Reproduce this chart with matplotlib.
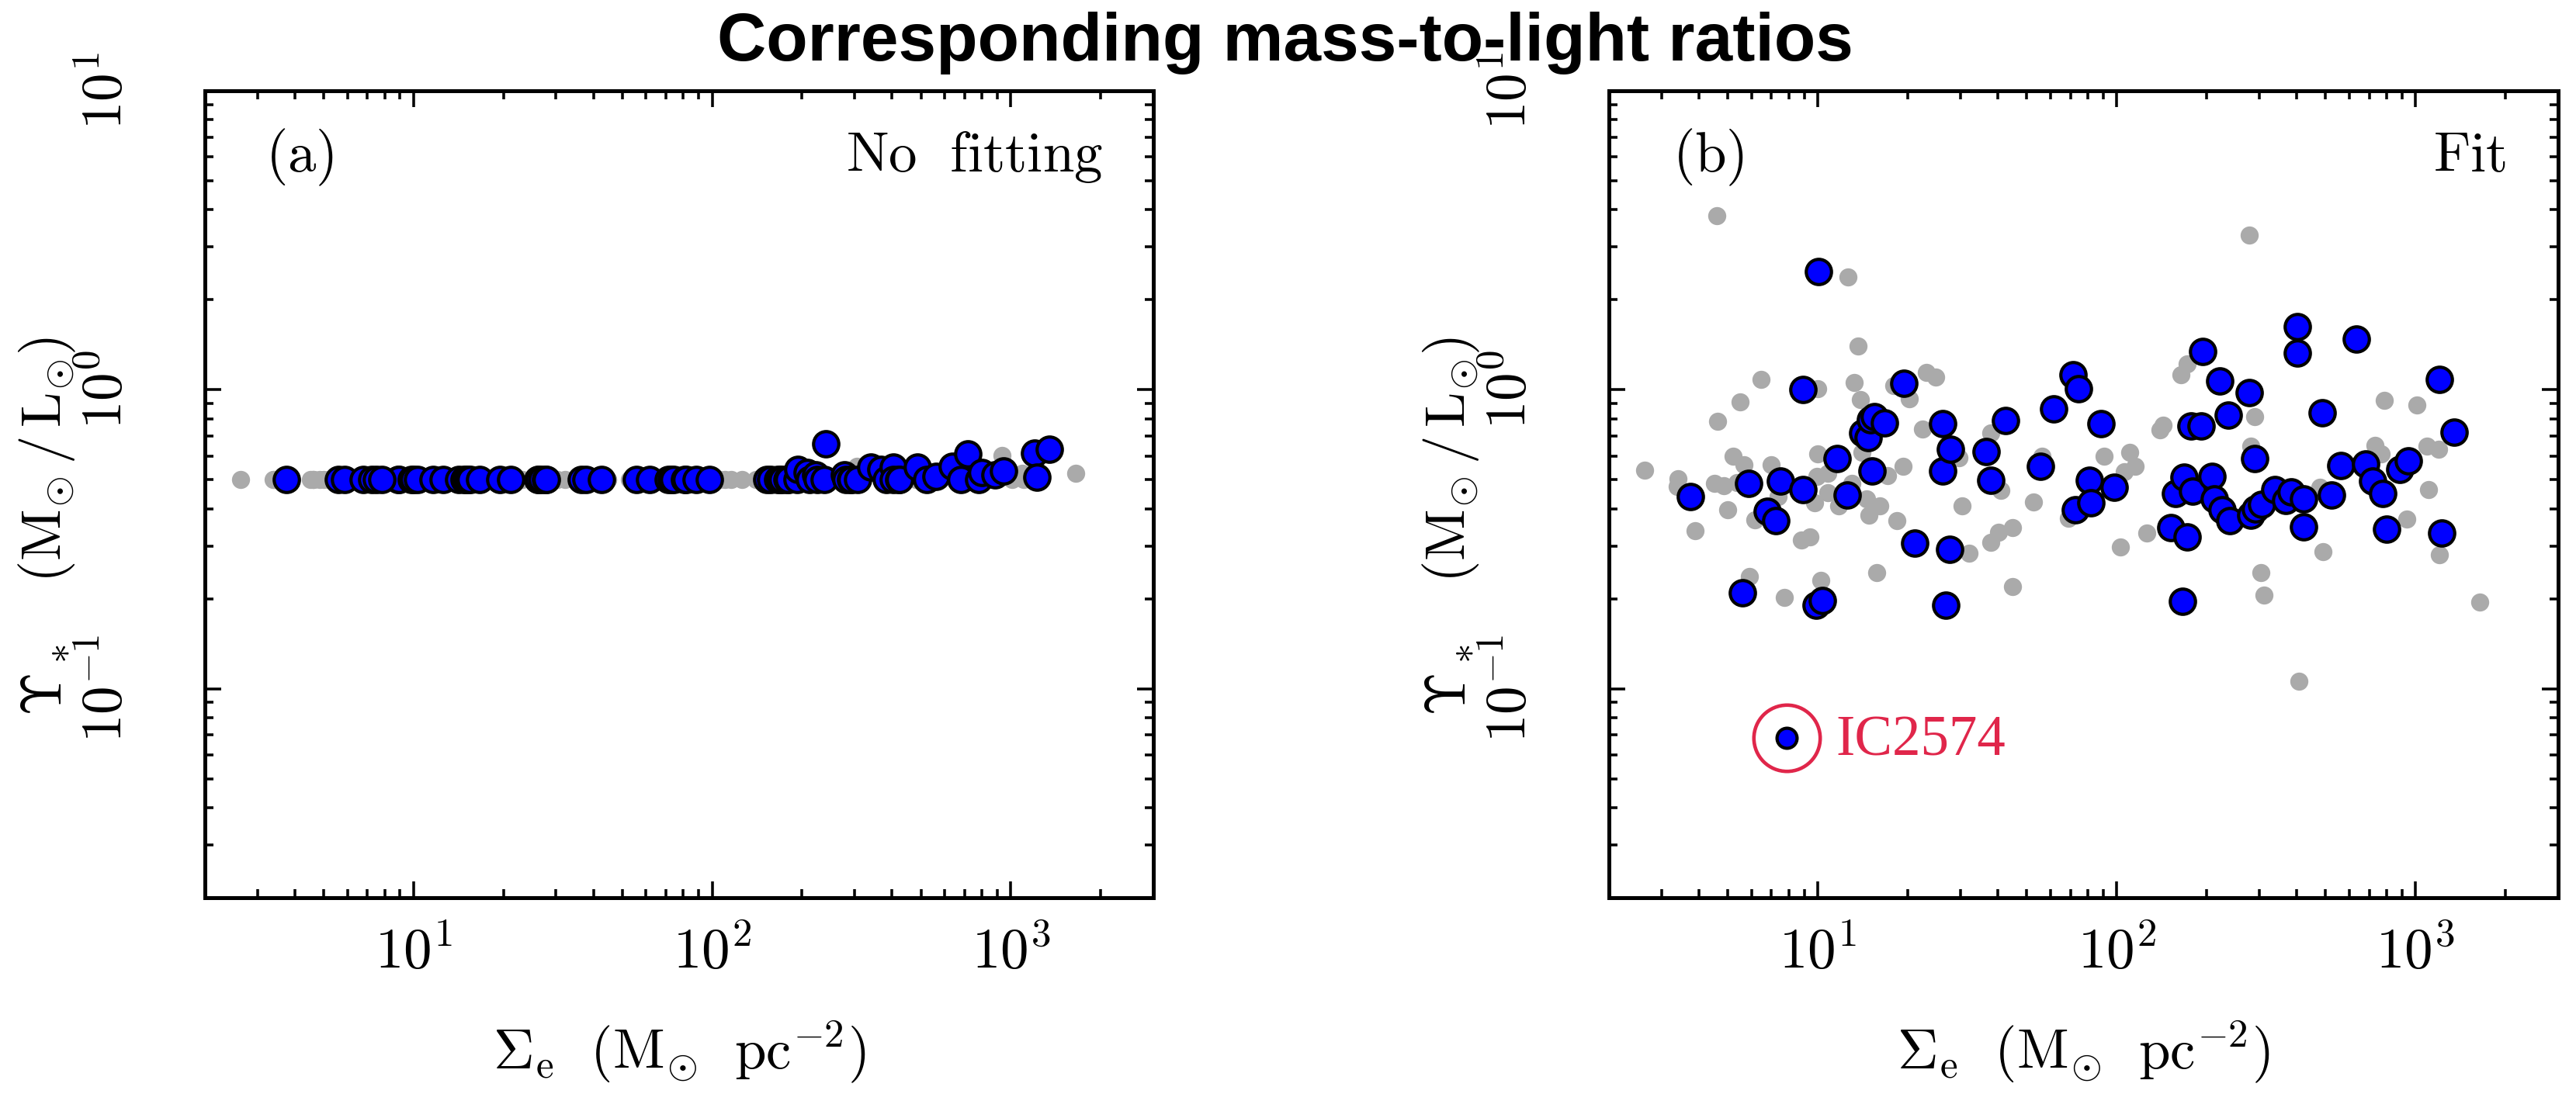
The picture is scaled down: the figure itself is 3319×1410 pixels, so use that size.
import numpy as np
import matplotlib
matplotlib.use("Agg")
import matplotlib.pyplot as plt
from matplotlib.ticker import FixedLocator, LogLocator, FuncFormatter, NullFormatter

plt.rcParams['mathtext.fontset'] = 'cm'

# Sigma_e of the galaxies plotted in blue, with M/L from the fit and without fitting
blue_x = [3.74, 5.61, 5.87, 6.77, 7.24, 7.50, 8.90, 8.94, 9.85, 10.03,
          10.33, 11.59, 12.55, 14.12, 14.74, 14.97, 15.17, 15.50, 16.67, 19.45,
          21.13, 26.10, 26.24, 26.88, 27.60, 27.83, 36.52, 37.81, 42.55, 55.7,
          61.7, 71.4, 72.8, 74.5, 80.9, 81.8, 88.4, 98.1,
          151.9, 157.4, 165.8, 168.2, 171.7, 177.9, 179.6, 191.9, 193.6, 208.0,
          211.8, 221.6, 225.4, 236.8, 239.6, 277.4, 281.3, 290.1, 292.1, 306.2,
          339.0, 368.1, 383.2, 403.6, 403.6, 421.1, 423.2, 487.7, 523.6, 563.0,
          635.3, 680.3, 719.6, 778.3, 800.6, 886.2, 946.7, 1199, 1222, 1343]
blue_fit = [0.440, 0.209, 0.487, 0.393, 0.364, 0.496, 1.00, 0.463, 0.190, 2.48,
            0.197, 0.589, 0.445, 0.715, 0.691, 0.792, 0.535, 0.815, 0.774, 1.05,
            0.307, 0.535, 0.771, 0.190, 0.293, 0.631, 0.623, 0.499, 0.789, 0.553,
            0.861, 1.12, 0.396, 1.01, 0.498, 0.420, 0.771, 0.472,
            0.345, 0.451, 0.196, 0.510, 0.321, 0.757, 0.458, 0.757, 1.34, 0.513,
            0.432, 1.07, 0.396, 0.822, 0.366, 0.979, 0.381, 0.590, 0.399, 0.413,
            0.463, 0.427, 0.455, 1.63, 1.33, 0.432, 0.348, 0.839, 0.444, 0.558,
            1.48, 0.565, 0.496, 0.449, 0.341, 0.540, 0.578, 1.08, 0.332, 0.723]
blue_nofit = [0.5] * 38 + [
            0.5, 0.5, 0.5, 0.5, 0.5, 0.5, 0.5, 0.5, 0.540, 0.529,
            0.5, 0.519, 0.5, 0.5, 0.659, 0.519, 0.5, 0.5, 0.5, 0.5,
            0.551, 0.540, 0.5, 0.551, 0.5, 0.5, 0.5, 0.551, 0.5, 0.514,
            0.556, 0.5, 0.609, 0.5, 0.529, 0.519, 0.535, 0.615, 0.509, 0.634]

# the rest of the sample, in grey
grey_x = [2.64, 3.38, 3.40, 3.89, 4.52, 4.60, 4.63, 4.84, 4.99, 5.22,
          5.36, 5.50, 5.65, 5.90, 6.17, 6.46, 7.00, 7.38, 7.74, 8.80,
          9.41, 9.74, 9.93, 9.98, 9.98, 10.22, 10.81, 10.81, 11.71, 12.62,
          13.03, 13.21, 13.60, 13.86, 14.01, 14.58, 14.82, 15.75, 16.14, 17.11,
          17.96, 18.44, 19.24, 20.25, 22.41, 23.14, 24.74, 29.66, 30.31, 32.06,
          37.93, 37.93, 40.22, 41.10, 44.74, 44.74, 52.8, 56.2, 69.1, 91.0,
          102.9, 106.0, 110.3, 115.5, 125.8, 139.9, 143.2, 163.8, 171.7, 277.4,
          281.3, 290.1, 304.2, 312.0, 407, 479.6, 491.2, 733.6, 769.1, 785.8,
          933.5, 1009, 1091, 1106, 1193, 1205, 1645]
grey_fit = [0.539, 0.474, 0.504, 0.338, 0.485, 3.81, 0.783, 0.477, 0.396, 0.600,
            0.490, 0.912, 0.560, 0.237, 0.368, 1.08, 0.560, 0.440, 0.202, 0.314,
            0.322, 0.418, 0.513, 1.006, 0.612, 0.230, 0.525, 0.453, 0.408, 2.39,
            0.485, 1.06, 1.40, 0.927, 0.616, 0.432, 0.381, 0.244, 0.408, 0.515,
            1.03, 0.364, 0.556, 0.935, 0.740, 1.14, 1.10, 0.593, 0.408, 0.284,
            0.715, 0.309, 0.334, 0.461, 0.346, 0.220, 0.422, 0.600, 0.372, 0.598,
            0.298, 0.531, 0.616, 0.553, 0.331, 0.735, 0.761, 1.12, 1.22, 3.30,
            0.648, 0.813, 0.245, 0.206, 0.106, 0.472, 0.287, 0.653, 0.612, 0.922,
            0.370, 0.889, 0.648, 0.463, 0.631, 0.280, 0.195]
grey_nofit = [0.5] * 72 + [0.556, 0.5, 0.5, 0.5, 0.5, 0.5, 0.5, 0.5,
                           0.603, 0.5, 0.524, 0.5, 0.5, 0.5, 0.526]

# IC2574, the outlier marked in panel (b)
ic_x = 7.85
ic_fit = 0.0684
ic_nofit = 0.5

blue = '#0000ff'
grey = '#aaaaaa'
red = '#e0264a'

fig = plt.figure(figsize=(3319 / 300, 1410 / 300), dpi=300)
ax_a = fig.add_axes([0.07954, 0.17943, 0.36818, 0.73759])
ax_b = fig.add_axes([0.62458, 0.17943, 0.36847, 0.73759])


def style(ax):
    ax.set_xscale('log')
    ax.set_yscale('log')
    ax.set_xlim(2, 3000)
    ax.set_ylim(0.02, 10)
    ax.xaxis.set_major_locator(FixedLocator([10, 100, 1000]))
    ax.yaxis.set_major_locator(FixedLocator([0.1, 1, 10]))
    ax.xaxis.set_minor_locator(LogLocator(base=10, subs=range(2, 10), numticks=20))
    ax.yaxis.set_minor_locator(LogLocator(base=10, subs=range(2, 10), numticks=20))
    fmt = FuncFormatter(lambda v, p: r'$10^{%d}$' % round(np.log10(v)))
    ax.xaxis.set_major_formatter(fmt)
    ax.yaxis.set_major_formatter(fmt)
    ax.xaxis.set_minor_formatter(NullFormatter())
    ax.yaxis.set_minor_formatter(NullFormatter())
    ax.tick_params(which='both', direction='in', top=True, right=True, width=0.85)
    ax.tick_params(which='major', length=5.0)
    ax.tick_params(which='minor', length=2.7)
    ax.tick_params(axis='x', labelsize=17.5, pad=8.5)
    ax.tick_params(axis='y', labelsize=17.5, pad=22)
    for s in ax.spines.values():
        s.set_linewidth(1.2)
    ax.set_xlabel(r'$\Sigma_{\rm e}\ \ ({\rm M}_{\odot}\ \ {\rm pc}^{-2})$',
                  fontsize=17.5, labelpad=12)
    ax.set_ylabel(r'$\Upsilon_*\ \ \ ({\rm M}_{\odot}\,/\,{\rm L}_{\odot})$',
                  fontsize=17.5)
    ax.yaxis.set_label_coords(-0.134, 0.46)


style(ax_a)
style(ax_b)

# (a) no fitting
ax_a.plot(grey_x, grey_nofit, 'o', ms=5.6, mfc=grey, mec='none', ls='none', zorder=2)
ax_a.plot(blue_x + [ic_x], blue_nofit + [ic_nofit], 'o', ms=7.8, mfc=blue,
          mec='k', mew=1.0, ls='none', zorder=3)
ax_a.text(0.064, 0.90, r'$\mathrm{(a)}$', transform=ax_a.transAxes,
          fontsize=17.5, va='baseline')
ax_a.text(0.947, 0.90, r'$\mathrm{No\ \ fitting}$', transform=ax_a.transAxes,
          fontsize=17.5, va='baseline', ha='right')

# (b) fit
ax_b.plot(grey_x, grey_fit, 'o', ms=5.6, mfc=grey, mec='none', ls='none', zorder=2)
ax_b.plot(blue_x, blue_fit, 'o', ms=7.8, mfc=blue, mec='k', mew=1.0,
          ls='none', zorder=3)
ax_b.plot(ic_x, ic_fit, 'o', ms=6.2, mfc=blue, mec='k', mew=1.0, zorder=3)
ax_b.plot(ic_x, ic_fit, 'o', ms=20.5, mfc='none', mec=red, mew=1.1, zorder=3)
ax_b.text(11.5, 0.0598, 'IC2574', color=red, fontsize=17.5,
          family='Liberation Serif', va='baseline')
ax_b.text(0.067, 0.90, r'$\mathrm{(b)}$', transform=ax_b.transAxes,
          fontsize=17.5, va='baseline')
ax_b.text(0.945, 0.90, r'$\mathrm{Fit}$', transform=ax_b.transAxes,
          fontsize=17.5, va='baseline', ha='right')

fig.text(0.499, 0.945, 'Corresponding mass-to-light ratios', ha='center',
         va='baseline', fontsize=21, fontweight='bold', family='Liberation Sans')

# y tick labels read bottom-to-top, centred on their ticks
fig.canvas.draw()
for ax in (ax_a, ax_b):
    for tick in ax.yaxis.get_major_ticks():
        tick.label1.set(rotation=90, ha='right', va='center', rotation_mode='default')

fig.savefig('out.png', dpi=300)
